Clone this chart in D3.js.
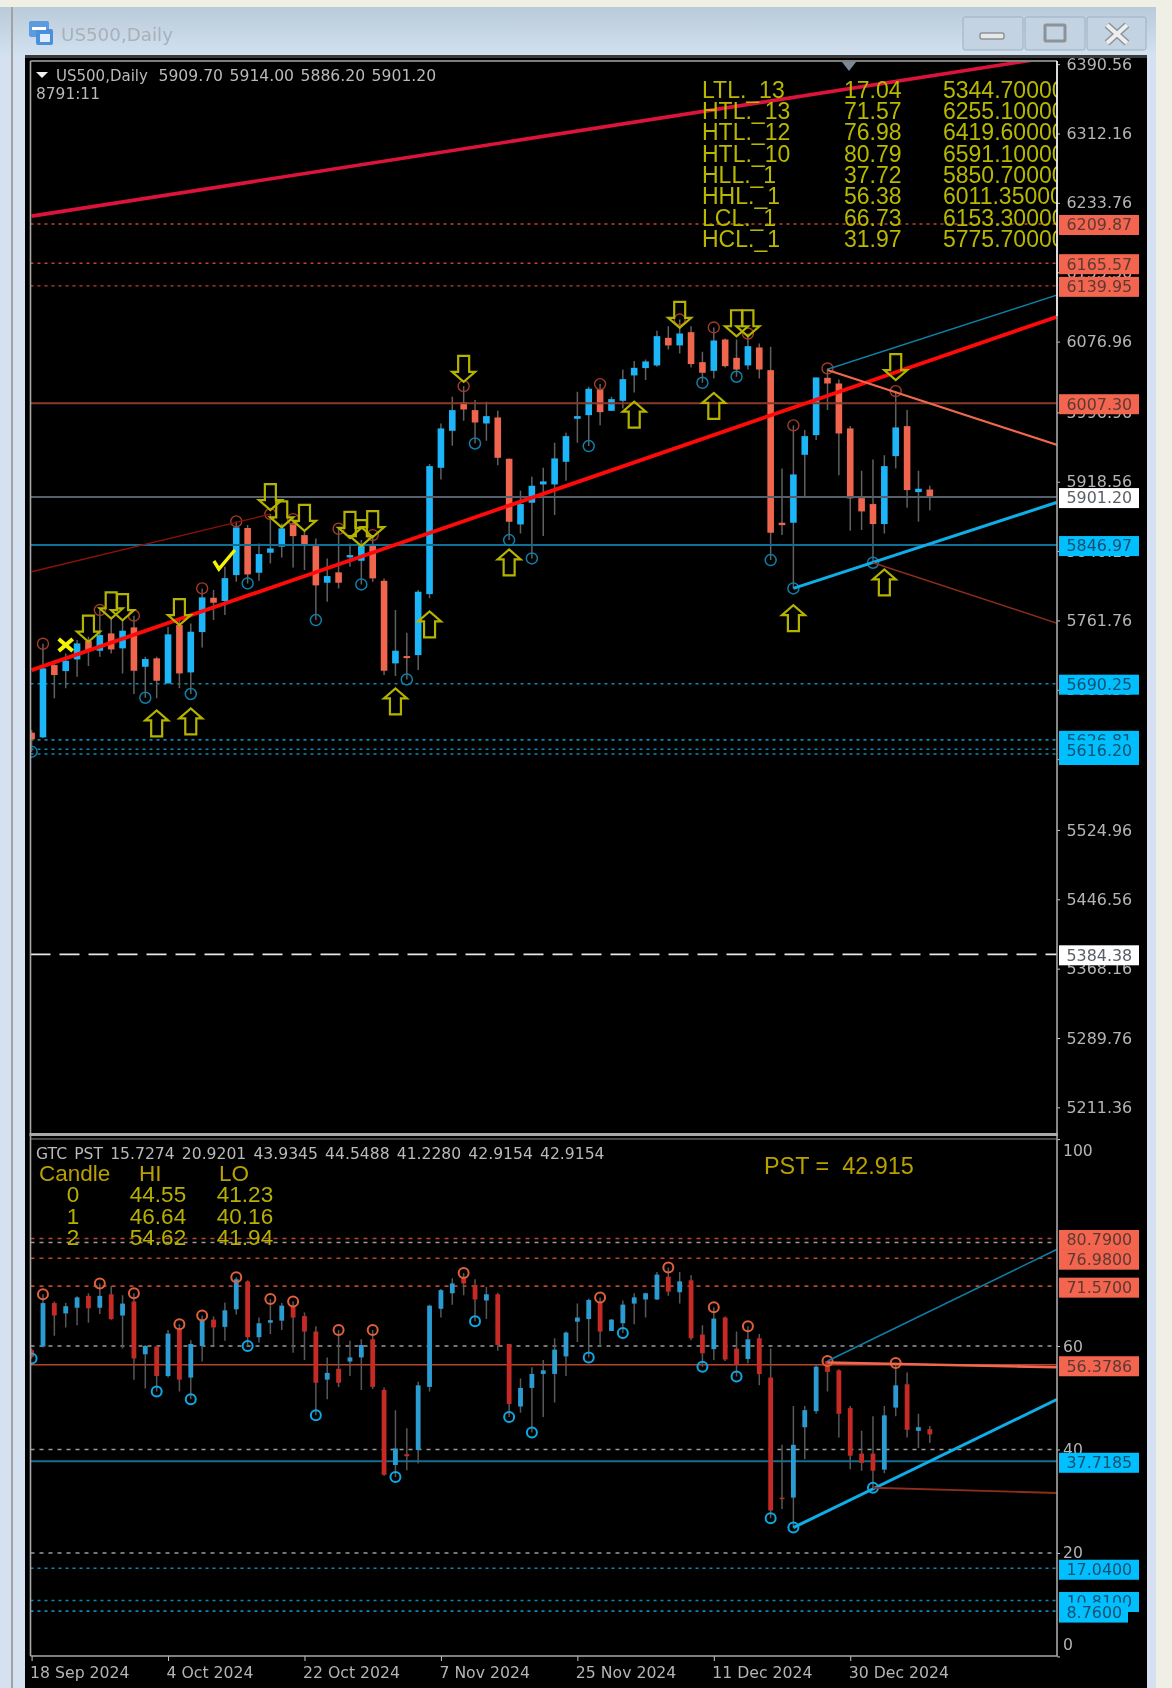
<!DOCTYPE html>
<html><head><meta charset="utf-8">
<script src="https://cdn.jsdelivr.net/npm/d3@7/dist/d3.min.js"></script>
<style>html,body{margin:0;padding:0;background:#efefe6}svg{display:block;filter:blur(.6px)}</style>
</head><body>
<div id="chart"></div>
<script>
const dateTicks=[[0,"18 Sep 2024"],[12,"4 Oct 2024"],[24,"22 Oct 2024"],[36,"7 Nov 2024"],[48,"25 Nov 2024"],[60,"11 Dec 2024"],[72,"30 Dec 2024"]];
const direction="RBRBBRBRBRBRBRBBRBBRBBBRRRBRBBRRBRBBBBRRBRRBBBBBBBRBBBBBRBRRBRRBRRRBBBRRRRRBBRBR";
const priceHigh=[5637.9,5735.4,5717.0,5724.5,5739.6,5743.3,5773.5,5765.9,5762.2,5767.1,5720.7,5720.7,5754.6,5762.2,5758.4,5798.0,5796.1,5822.5,5873.7,5869.5,5848.8,5882.0,5871.4,5876.3,5863.9,5854.5,5831.9,5865.4,5848.8,5852.6,5858.2,5809.3,5773.5,5747.9,5796.1,5938.5,5984.4,6014.6,6026.6,6010.8,6008.9,5998.7,5944.9,5908.3,5924.1,5934.3,5962.6,5973.9,6020.2,6025.9,6028.9,6014.6,6045.4,6054.9,6056.7,6089.1,6094.4,6101.9,6094.4,6065.4,6092.9,6080.5,6079.3,6086.1,6074.8,6071.1,5933.6,5982.2,5976.9,6036.4,6046.6,6034.1,5981.4,5930.9,5943.7,5948.6,6021.0,5999.5,5930.9,5914.0];
const priceBodyTop=[5634.9,5707.6,5711.3,5716.2,5735.8,5738.4,5745.2,5747.1,5750.1,5753.9,5718.1,5718.9,5746.0,5756.5,5749.0,5787.8,5787.4,5809.6,5866.9,5866.2,5836.8,5843.2,5865.8,5871.4,5858.2,5845.8,5811.9,5816.1,5835.6,5845.8,5848.1,5806.6,5727.5,5721.5,5794.2,5936.2,5978.8,5999.5,6008.2,5999.5,5992.7,5991.2,5944.5,5893.3,5914.0,5918.9,5944.9,5970.1,5992.7,6023.6,6023.2,6011.9,6034.5,6047.3,6054.5,6083.1,6081.2,6086.1,6087.6,6053.7,6078.2,6079.3,6058.6,6071.8,6070.3,6044.7,5872.2,5926.8,5970.1,6036.4,6036.0,6029.6,5978.8,5900.0,5893.3,5936.2,5979.9,5981.4,5910.6,5909.7];
const priceBodyBottom=[5627.3,5629.6,5700.0,5704.5,5717.7,5727.5,5727.5,5729.0,5730.2,5704.9,5709.4,5693.6,5690.6,5701.9,5703.0,5748.6,5781.8,5783.7,5813.0,5813.8,5815.7,5838.3,5845.1,5857.1,5846.6,5801.4,5804.4,5804.4,5833.0,5829.2,5809.3,5704.9,5713.2,5719.2,5722.6,5791.5,5934.3,5976.1,6000.2,5985.5,5984.4,5945.6,5873.3,5870.3,5894.8,5915.5,5915.5,5941.1,5989.7,5993.8,5997.2,5998.7,6010.0,6038.7,6047.0,6050.0,6072.6,6072.6,6051.5,6041.7,6043.9,6049.2,6045.4,6050.0,6045.4,5860.9,5869.5,5872.2,5949.0,5971.2,6029.6,5973.1,5899.7,5885.0,5870.7,5870.7,5947.5,5909.1,5906.8,5901.2];
const priceLow=[5613.4,5628.5,5673.7,5685.0,5698.1,5710.2,5720.7,5724.5,5701.9,5678.6,5674.4,5673.7,5690.6,5685.0,5678.6,5731.3,5762.2,5767.8,5805.5,5803.6,5806.6,5826.2,5833.0,5821.7,5818.7,5762.2,5782.9,5798.0,5822.5,5802.5,5805.5,5700.0,5698.9,5695.1,5705.7,5786.7,5921.1,5959.2,5987.4,5961.8,5964.8,5937.3,5852.6,5860.1,5831.9,5857.1,5880.8,5919.6,5962.6,5958.8,5982.5,5998.7,6001.4,6019.5,6033.4,6048.5,6068.0,6063.5,6047.7,6030.4,6035.3,6047.7,6037.2,6045.4,6035.3,5830.0,5858.2,5798.0,5902.3,5965.6,5999.5,5926.0,5863.1,5863.9,5827.0,5860.1,5933.6,5889.1,5873.3,5886.2];
const pstHigh=[59.5,70.0,68.6,68.3,69.6,70.2,72.1,71.6,69.8,70.2,60.2,59.9,63.1,64.2,61.1,65.9,65.7,68.4,73.3,72.7,65.5,69.1,68.3,68.6,66.5,63.8,57.8,63.1,61.0,61.3,63.1,52.0,47.6,44.1,53.1,68.0,71.0,73.1,74.1,72.9,71.4,70.3,60.4,53.7,55.9,57.3,61.5,62.8,68.2,69.2,69.4,65.2,68.8,70.2,70.3,74.3,75.2,74.3,73.7,64.0,67.5,65.7,62.8,63.8,62.3,59.5,40.9,48.4,48.4,56.4,57.1,55.5,48.4,43.6,46.4,48.4,56.7,54.9,46.9,44.55];
const pstBodyTop=[59.2,68.3,68.3,67.7,69.4,69.7,69.7,70.0,68.2,68.6,60.0,59.9,62.4,63.2,60.4,65.1,65.1,66.9,72.9,72.5,64.4,65.0,67.8,67.6,65.8,62.8,54.8,55.6,57.8,60.2,61.3,51.5,40.2,39.1,52.4,67.8,70.8,72.1,73.4,71.8,70.0,70.0,60.4,51.9,54.6,55.3,59.3,62.6,65.5,68.9,68.5,65.1,68.0,69.4,70.2,73.8,73.4,72.5,72.7,62.2,65.3,65.5,59.5,61.3,61.5,53.9,30.7,40.9,47.6,56.0,57.1,55.3,48.0,39.2,39.2,46.6,52.4,52.6,44.3,43.93];
const pstBodyBottom=[57.9,59.9,65.9,66.3,67.4,67.3,67.4,65.2,65.9,57.6,58.4,54.2,54.2,53.5,53.9,60.0,63.6,63.7,67.1,61.7,61.7,64.5,64.9,65.5,62.8,52.9,53.5,52.9,57.0,57.8,52.1,35.1,37.0,38.7,39.9,52.1,67.2,70.2,72.1,69.0,68.8,60.2,48.8,48.3,51.9,54.6,54.6,58.0,64.7,65.2,62.8,62.9,64.4,68.2,69.0,69.0,70.5,70.4,61.5,58.6,59.4,57.4,56.4,57.5,54.6,28.2,30.4,30.7,44.3,47.4,55.0,46.9,38.8,37.4,35.9,36.1,48.1,43.8,43.6,42.92];
const pstLow=[57.6,59.7,62.0,63.6,64.0,64.5,66.2,65.1,59.5,53.5,51.8,51.2,53.9,51.2,49.7,57.0,60.2,61.0,66.1,60.0,60.7,62.3,63.1,58.7,57.3,46.6,49.7,52.1,54.2,51.5,51.7,34.9,34.7,36.0,37.3,51.2,65.5,68.0,69.8,64.8,65.2,59.1,46.3,47.1,43.3,46.3,49.1,54.2,60.8,57.8,60.0,62.9,62.5,64.2,65.5,68.9,69.7,68.2,61.1,56.0,57.3,57.1,54.1,56.6,52.4,26.7,28.5,24.9,38.1,46.9,51.2,42.3,36.2,35.9,32.6,35.4,46.4,42.3,40.3,41.23];

const priceSwingHighs=[1,6,9,15,18,21,23,27,30,38,50,57,60,63,67,70,76];
const priceSwingLows=[0,10,14,19,25,29,33,39,42,44,49,59,62,65,67,74];
const pstSwingHighs=[1,6,9,13,15,18,21,23,27,30,38,50,56,60,63,70,76];
const pstSwingLows=[0,11,14,19,25,32,39,42,44,49,52,59,62,65,67,74];

const arrowsDown=[[5,5737.7],[7,5764],[8,5762],[13,5756.5],[21,5886.5],[22,5866.9],[24,5863],[28,5855],[29,5845.8],[30,5856],[38,6031.5],[57,6092.5],[62,6083],[63,6083],[76,6033.4]];
const arrowsUp=[[11,5660],[14,5662.4],[32,5685],[35,5772],[42,5842],[53,6009],[60,6019],[67,5779],[75,5819.4]];
const checkMark=[17,5831.2];
const crossMark=[3,5734];

const priceTicks=[6390.56,6312.16,6233.76,6155.36,6076.96,5996.96,5918.56,5840.16,5761.76,5683.36,5604.96,5524.96,5446.56,5368.16,5289.76,5211.36];
const pstTicks=[100,60,40,20,0];

const priceLevelsDotRed=[6209.87,6165.57,6139.95];
const priceLevelsDotBlue=[5690.25,5626.81,5616.20,5610.81];
const priceLevelSolid=[[6007.30,"#8a3a2a"],[5901.20,"#56606c"],[5846.97,"#0f6f95"]];
const priceLevelDashed=[5384.38];
const pstLevelsGrey=[80,60,40,20];
const pstLevelsDotRed=[80.79,76.98,71.57];
const pstLevelsDotBlue=[17.04,10.81,8.76];
const pstLevelSolid=[[56.3786,"#b8432c"],[37.7185,"#0f6f95"]];

const priceTrend=[
 [0,5816.8,21,5882,"#8c1208",1.3],
 [0,6218.8,90,6399.1,"#dc143c",3.6],
 [0,5705.6,90.2,6105.1,"#ff0a0a",3.8],
 [70,6045.6,90.2,6129.6,"#0f7ea5",1.5],
 [70,6044.8,90.2,5960.1,"#f0694f",2.2],
 [67,5798,90.2,5895.3,"#10aee8",3],
 [74,5827,90.2,5758.6,"#8c2e1c",1.5]];
const pstTrend=[
 [70,57.1,90.2,78.7,"#0f7ea5",1.5],
 [70,56.8,90.2,55.9,"#f0694f",2.6],
 [67,24.9,90.2,49.7,"#10aee8",3],
 [74,32.6,90.2,31.6,"#8c2e1c",1.9]];

const priceBoxes=[[6209.87,"r"],[6165.57,"r"],[6139.95,"r"],[6007.30,"r"],[5901.20,"w"],[5846.97,"b"],[5690.25,"b"],[5610.81,"b"],[5626.81,"b"],[5616.20,"b"],[5384.38,"w"]];
const pstBoxes=[["80.7900",80.79,"r"],["76.9800",76.98,"r"],["71.5700",71.57,"r"],["56.3786",56.3786,"r"],["37.7185",37.7185,"b"],["17.0400",17.04,"b"],["10.8100",10.81,"b"],["8.7600",8.76,"b"]];

const levelTableNames=["LTL._13","HTL._13","HTL._12","HTL._10","HLL._1","HHL._1","LCL._1","HCL._1"];
const levelTablePst=["17.04","71.57","76.98","80.79","37.72","56.38","66.73","31.97"];
const levelTablePrice=["5344.70000","6255.10000","6419.60000","6591.10000","5850.70000","6011.35000","6153.30000","5775.70000"];
const candleRows=[["0","44.55","41.23"],["1","46.64","40.16"],["2","54.62","41.94"]];

const W=1172,H=1688;
const svg=d3.select("#chart").append("svg").attr("width",W).attr("height",H);
const x=d3.scaleLinear().domain([0,90]).range([31.6,31.6+11.37*90]);
const yP=d3.scaleLinear().domain([5384.38,6209.87]).range([954.3,224]);
const yS=d3.scaleLinear().domain([0,100]).range([1656.4,1139.1]);
const L=30.5,R=1057;
const SANS="'DejaVu Sans',sans-serif",ARIAL="'Liberation Sans',Arial,sans-serif";
const RED="#f4654f",BLUE="#00bfff";

// window chrome
const defs=svg.append("defs");
const g0=defs.append("linearGradient").attr("id","tb").attr("x1",0).attr("x2",0).attr("y1",0).attr("y2",1);
g0.append("stop").attr("offset",0).attr("stop-color","#b9cad8");
g0.append("stop").attr("offset",1).attr("stop-color","#d2e1f0");
defs.append("clipPath").attr("id","c1").append("rect").attr("x",L).attr("y",62).attr("width",R-L).attr("height",1072);
defs.append("clipPath").attr("id","c2").append("rect").attr("x",L).attr("y",1139).attr("width",R-L).attr("height",517);
svg.append("rect").attr("width",W).attr("height",H).attr("fill","#efefe6");
svg.append("rect").attr("y",7).attr("width",1156).attr("height",H-7).attr("fill","#d5e1f0");
svg.append("rect").attr("y",7).attr("width",1156).attr("height",48).attr("fill","url(#tb)");
svg.append("rect").attr("x",11).attr("y",7).attr("width",2).attr("height",H-7).attr("fill","#a2a2a2");
svg.append("rect").attr("x",25).attr("y",55).attr("width",1122).attr("height",H-55).attr("fill","#000");
svg.append("rect").attr("x",25).attr("y",55).attr("width",1122).attr("height",3).attr("fill","#3a3a3a");
// title
const icon=svg.append("g");
icon.append("rect").attr("x",29).attr("y",21).attr("width",20).attr("height",16).attr("rx",2).attr("fill","#5b9be0");
icon.append("rect").attr("x",36).attr("y",29).attr("width",17).attr("height",16).attr("rx",2).attr("fill","#4a8fdc");
icon.append("rect").attr("x",32).attr("y",27).attr("width",14).attr("height",3).attr("fill","#fff");
icon.append("rect").attr("x",40).attr("y",34).attr("width",10).attr("height",8).attr("fill","#dfeefc");
svg.append("text").attr("x",61).attr("y",41).attr("font-family",SANS).attr("font-size",18.3).attr("fill","#a9b1b8").text("US500,Daily");
[[963,60],[1025,60],[1087,59]].forEach(b=>svg.append("rect").attr("x",b[0]).attr("y",17).attr("width",b[1]).attr("height",33).attr("rx",2).attr("fill","#c4d3e2").attr("stroke","#9fb0c1"));
svg.append("rect").attr("x",980).attr("y",33).attr("width",24).attr("height",6).attr("rx",2).attr("fill","#e8e8e8").attr("stroke","#8a929a").attr("stroke-width",1.5);
svg.append("rect").attr("x",1045).attr("y",25).attr("width",20).attr("height",16).attr("rx",1).attr("fill","none").attr("stroke","#8a929a").attr("stroke-width",3);
svg.append("path").attr("d",d3.line()([[1107,25],[1127,43]])).attr("stroke","#8a929a").attr("stroke-width",7);
svg.append("path").attr("d",d3.line()([[1127,25],[1107,43]])).attr("stroke","#8a929a").attr("stroke-width",7);
svg.append("path").attr("d",d3.line()([[1107,25],[1127,43]])).attr("stroke","#eee").attr("stroke-width",4);
svg.append("path").attr("d",d3.line()([[1127,25],[1107,43]])).attr("stroke","#eee").attr("stroke-width",4);

function hline(g,y,col,w,dash){g.append("line").attr("x1",L).attr("x2",R).attr("y1",y).attr("y2",y).attr("stroke",col).attr("stroke-width",w).attr("stroke-dasharray",dash||null);}
function drawCandles(g,y,high,top,bot,low,bw,cB,cR,wick){
 const idx=d3.range(high.length);
 g.selectAll(".w").data(idx).join("line").attr("x1",i=>x(i)).attr("x2",i=>x(i)).attr("y1",i=>y(high[i])).attr("y2",i=>y(low[i])).attr("stroke",wick).attr("stroke-width",1.5);
 g.selectAll(".b").data(idx).join("rect").attr("x",i=>x(i)-bw/2).attr("width",bw).attr("y",i=>y(top[i])).attr("height",i=>Math.max(1.5,y(bot[i])-y(top[i]))).attr("fill",i=>direction[i]==="B"?cB:cR);
}
function drawCircles(g,list,vals,y,col,r,w){
 g.selectAll(null).data(list).join("circle").attr("cx",i=>x(i)).attr("cy",i=>y(vals[i])).attr("r",r).attr("fill","none").attr("stroke",col).attr("stroke-width",w);
}
function drawTrends(g,list,y){
 g.selectAll(null).data(list).join("line").attr("x1",d=>x(d[0])).attr("y1",d=>y(d[1])).attr("x2",d=>x(d[2])).attr("y2",d=>y(d[3])).attr("stroke",d=>d[4]).attr("stroke-width",d=>d[5]);
}

// price panel
const p=svg.append("g").attr("clip-path","url(#c1)");
priceLevelsDotRed.forEach(v=>hline(p,yP(v),"#c0452e",1.4,"3 4"));
priceLevelsDotBlue.forEach(v=>hline(p,yP(v),"#0f86ad",1.6,"3 4"));
priceLevelDashed.forEach(v=>hline(p,yP(v),"#e8e8e8",1.8,"20 9"));
drawCandles(p,yP,priceHigh,priceBodyTop,priceBodyBottom,priceLow,6.6,"#1cb6f8","#f0654e","#606060");
priceLevelSolid.forEach(d=>hline(p,yP(d[0]),d[1],2));
drawCircles(p,priceSwingHighs,priceHigh,yP,"#a03c2a",5.5,1.4);
drawCircles(p,priceSwingLows,priceLow,yP,"#0f7fa8",5.5,1.5);
drawTrends(p,priceTrend,yP);
const arrowDown=[[-5.5,-26],[5.5,-26],[5.5,-10],[11.5,-10],[0,0],[-11.5,-10],[-5.5,-10]];
const arrowUp=arrowDown.map(q=>[q[0],-q[1]]);
const closed=d3.line().curve(d3.curveLinearClosed);
p.selectAll(null).data(arrowsDown).join("path").attr("d",closed(arrowDown)).attr("transform",d=>`translate(${x(d[0])},${yP(d[1])})`).attr("fill","none").attr("stroke","#b4b400").attr("stroke-width",2.2);
p.selectAll(null).data(arrowsUp).join("path").attr("d",closed(arrowUp)).attr("transform",d=>`translate(${x(d[0])},${yP(d[1])})`).attr("fill","none").attr("stroke","#b4b400").attr("stroke-width",2.2);
p.append("path").attr("d",d3.line()([[-11,2],[-6,10],[10,-9]])).attr("transform",`translate(${x(checkMark[0])},${yP(checkMark[1])})`).attr("fill","none").attr("stroke","#f4f400").attr("stroke-width",3.4);
const cg=p.append("g").attr("transform",`translate(${x(crossMark[0])},${yP(crossMark[1])})`);
cg.append("path").attr("d",d3.line()([[-7,-6],[7,6]])).attr("stroke","#f4f400").attr("stroke-width",4);
cg.append("path").attr("d",d3.line()([[7,-6],[-7,6]])).attr("stroke","#f4f400").attr("stroke-width",4);
svg.append("path").attr("d",closed([[842,62],[856,62],[849,71]])).attr("fill","#7b8896");

// texts over price panel
svg.append("path").attr("d",closed([[36,72],[48,72],[42,78]])).attr("fill","#eee");
const hdr=svg.append("g").attr("font-family",SANS).attr("fill","#b9b9b9");
hdr.append("text").attr("x",56).attr("y",81).attr("font-size",15).text("US500,Daily");
hdr.append("text").attr("x",158.5).attr("y",81).attr("font-size",15.6).attr("word-spacing","1.6").text("5909.70 5914.00 5886.20 5901.20");
hdr.append("text").attr("x",36).attr("y",99).attr("font-size",15.4).text("8791:11");
const tb=svg.append("g").attr("clip-path","url(#c1)").attr("font-family",ARIAL).attr("font-size",23).attr("fill","#b8b800");
const rowY=i=>97.6+i*21.33;
levelTableNames.forEach((t,i)=>{
 tb.append("text").attr("x",702).attr("y",rowY(i)).text(t);
 tb.append("text").attr("x",844).attr("y",rowY(i)).text(levelTablePst[i]);
 tb.append("text").attr("x",943).attr("y",rowY(i)).text(levelTablePrice[i]);
});

// PST panel
const s=svg.append("g").attr("clip-path","url(#c2)");
pstLevelsDotRed.forEach(v=>hline(s,yS(v),"#c0452e",1.6,"4 5"));
pstLevelsGrey.forEach(v=>hline(s,yS(v),"#9a9a9a",1.5,"4 5"));
pstLevelsDotBlue.forEach(v=>hline(s,yS(v),"#0f86ad",1.6,"3 4"));
pstLevelSolid.forEach((d,i)=>hline(s,yS(d[0]),d[1],i?2:1.6));
drawCandles(s,yS,pstHigh,pstBodyTop,pstBodyBottom,pstLow,4.8,"#2a9cd2","#c62a24","#585858");
drawCircles(s,pstSwingHighs,pstHigh,yS,"#e0603c",5,2);
drawCircles(s,pstSwingLows,pstLow,yS,"#0ea8e4",5,2);
drawTrends(s,pstTrend,yS);

svg.append("text").attr("x",36).attr("y",1159).attr("font-family",SANS).attr("font-size",15.6).attr("fill","#b9b9b9").attr("word-spacing","2.2").text("GTC PST 15.7274 20.9201 43.9345 44.5488 41.2280 42.9154 42.9154");
const ct=svg.append("g").attr("font-family",ARIAL).attr("font-size",22.5);
ct.append("text").attr("x",39).attr("y",1181).attr("fill","#b8a000").text("Candle");
ct.append("text").attr("x",139).attr("y",1181).attr("fill","#b8a000").text("HI");
ct.append("text").attr("x",219).attr("y",1181).attr("fill","#b8a000").text("LO");
candleRows.forEach((r,i)=>{
 const yy=1202+i*21.6;
 ct.append("text").attr("x",73).attr("y",yy).attr("text-anchor","middle").attr("fill","#b8b000").text(r[0]);
 ct.append("text").attr("x",158).attr("y",yy).attr("text-anchor","middle").attr("fill","#b8b000").text(r[1]);
 ct.append("text").attr("x",245).attr("y",yy).attr("text-anchor","middle").attr("fill","#b8b000").text(r[2]);
});
svg.append("text").attr("x",764).attr("y",1174).attr("font-family",ARIAL).attr("font-size",23.4).attr("fill","#b8a000").attr("xml:space","preserve").text("PST =  42.915");

// axes
function styleAxis(g,font){g.selectAll("path.domain").remove();g.selectAll("line").attr("stroke","#c8c8c8");g.selectAll("text").attr("font-family",SANS).attr("font-size",font).attr("fill","#b4b4b4");}
const axP=svg.append("g").attr("transform",`translate(${R},0)`).call(d3.axisRight(yP).tickValues(priceTicks).tickSize(3).tickPadding(6.5).tickFormat(d3.format(".2f")));
styleAxis(axP,15.9);
const axS=svg.append("g").attr("transform",`translate(${R},0)`).call(d3.axisRight(yS).tickValues(pstTicks).tickSize(3).tickPadding(3).tickFormat(d3.format("d")));
styleAxis(axS,15.6);
axS.selectAll("text").attr("dy",d=>d===100?"1.05em":d===0?"-0.45em":"0.32em");
const axD=svg.append("g").attr("transform",`translate(0,1656)`).call(d3.axisBottom(x).tickValues(dateTicks.map(d=>d[0])).tickSize(5).tickPadding(6).tickFormat(i=>dateTicks.find(d=>d[0]===i)[1]));
styleAxis(axD,15.7);
axD.selectAll("text").attr("text-anchor","start").attr("dx",-2);

// frames
const fr=svg.append("g").attr("fill","none");
fr.append("line").attr("x1",L).attr("x2",R).attr("y1",61).attr("y2",61).attr("stroke","#a8a8a8").attr("stroke-width",1.6);
fr.append("line").attr("x1",L).attr("x2",L).attr("y1",61).attr("y2",1656).attr("stroke","#a8a8a8").attr("stroke-width",1.6);
fr.append("line").attr("x1",R).attr("x2",R).attr("y1",61).attr("y2",316).attr("stroke","#f4f4f4").attr("stroke-width",1.8);
fr.append("line").attr("x1",R).attr("x2",R).attr("y1",316).attr("y2",1656).attr("stroke","#a8a8a8").attr("stroke-width",1.6);
fr.append("rect").attr("x",L-1).attr("y",1133).attr("width",R-L+2).attr("height",3).attr("fill","#a8a8a8");
fr.append("line").attr("x1",L).attr("x2",R).attr("y1",1139).attr("y2",1139).attr("stroke","#8a8a8a").attr("stroke-width",1.2);
fr.append("line").attr("x1",L).attr("x2",R).attr("y1",1656).attr("y2",1656).attr("stroke","#a8a8a8").attr("stroke-width",1.6);

// value boxes
const boxCol={r:[RED,"#5b3a34"],b:[BLUE,"#12506e"],w:["#ffffff","#5a6068"]};
function box(t,yy,kind,w,off){
 const g=svg.append("g");
 g.append("rect").attr("x",1059).attr("y",yy+off-10).attr("width",w||80).attr("height",20).attr("fill",boxCol[kind][0]);
 g.append("text").attr("x",1066.5).attr("y",yy+off+0.34*15.9).attr("font-family",SANS).attr("font-size",15.9).attr("fill",boxCol[kind][1]).text(t);
}
priceBoxes.forEach(d=>box(d[0].toFixed(2),yP(d[0]),d[1],80,1));
pstBoxes.forEach(d=>box(d[0],yS(d[1]),d[2],d[0]==="8.7600"?69:80,1.5));
</script>
</body></html>
